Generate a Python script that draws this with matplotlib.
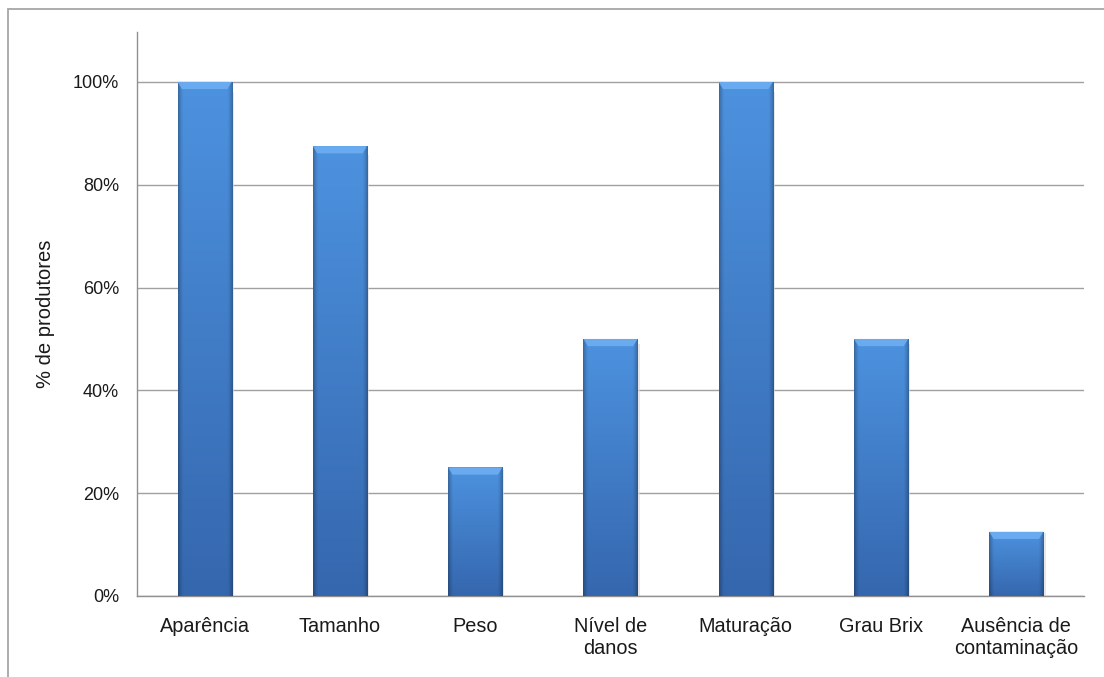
import numpy as np
import matplotlib
matplotlib.use("Agg")
from matplotlib import pyplot as plt
from matplotlib.patches import Rectangle, Polygon
from matplotlib.colors import to_rgb

categories = ["Aparência", "Tamanho", "Peso", "Nível de\ndanos",
              "Maturação", "Grau Brix", "Ausência de\ncontaminação"]
values = [1.00, 0.875, 0.25, 0.50, 1.00, 0.50, 0.125]
yticks = [0, 0.2, 0.4, 0.6, 0.8, 1.0]
ytick_labels = ["0%", "20%", "40%", "60%", "80%", "100%"]

plt.rcParams['font.family'] = ['Liberation Sans', 'DejaVu Sans']

fig = plt.figure(figsize=(11.04, 6.77), dpi=100)
ax = fig.add_axes([137 / 1104, 1 - 596 / 677, (1084 - 137) / 1104, (596 - 32) / 677])

# outer frame (cut by the image on right/bottom)
fig.add_artist(Rectangle((8 / 1104, -0.1), 1.2, 1 - 9 / 677 + 0.1,
                         transform=fig.transFigure, fill=False,
                         edgecolor="#a6a6a6", linewidth=1.3))

x = np.arange(len(categories))
bars = ax.bar(x, values, width=0.4, color="none", edgecolor="none", zorder=3)

# gradient fill for each bar
top_c = np.array(to_rgb("#4d92df"))
bot_c = np.array(to_rgb("#3567ae"))
nx, ny = 80, 80
u = np.linspace(0, 1, nx)
v = np.linspace(0, 1, ny)[:, None]  # 0 = top
edge = 1 - 0.28 * np.clip(1 - np.minimum(u, 1 - u) / 0.1, 0, 1) ** 1.5
col = top_c[None, None, :] * (1 - v[..., None]) + bot_c[None, None, :] * v[..., None]
img = np.clip(col * edge[None, :, None], 0, 1)

for b in bars:
    x0, w, h = b.get_x(), b.get_width(), b.get_height()
    im = ax.imshow(img, extent=(x0, x0 + w, 0, h), origin="upper",
                   aspect="auto", zorder=3, interpolation="bilinear")
    clip = Rectangle((x0, 0), w, h, transform=ax.transData, facecolor="none", edgecolor="none")
    ax.add_patch(clip)
    im.set_clip_path(clip)
    # top bevel
    d = w * 0.08
    bh = 0.014
    ax.add_patch(Polygon([(x0, h), (x0 + w, h), (x0 + w - d, h - bh), (x0 + d, h - bh)],
                         closed=True, facecolor="#70b0f4", edgecolor="none", alpha=0.85, zorder=4))
    # subtle side shadow
    ax.add_patch(Rectangle((x0 + w, 0), w * 0.04, h * 0.98, facecolor="#d8d8d8",
                           edgecolor="none", alpha=0.6, zorder=2))

ax.set_xlim(-0.5, len(categories) - 0.5)
ax.set_ylim(0, 1.097)
ax.set_yticks(yticks)
ax.set_yticklabels(ytick_labels)
ax.set_xticks(x)
ax.set_xticklabels(categories, linespacing=1.2, fontsize=14.3)
ax.yaxis.grid(True, color="#a0a0a0", linewidth=1.0, zorder=1)
ax.set_axisbelow(True)
ax.tick_params(axis="both", length=0, colors="#1a1a1a")
ax.tick_params(axis="y", pad=13, labelsize=13)
ax.tick_params(axis="x", pad=15)
for s in ["top", "right"]:
    ax.spines[s].set_visible(False)
for s in ["left", "bottom"]:
    ax.spines[s].set_color("#909090")
    ax.spines[s].set_linewidth(1.0)
ax.set_ylabel("% de produtores", fontsize=14.5, color="#1a1a1a", labelpad=13)

fig.savefig("out.png", dpi=100)
